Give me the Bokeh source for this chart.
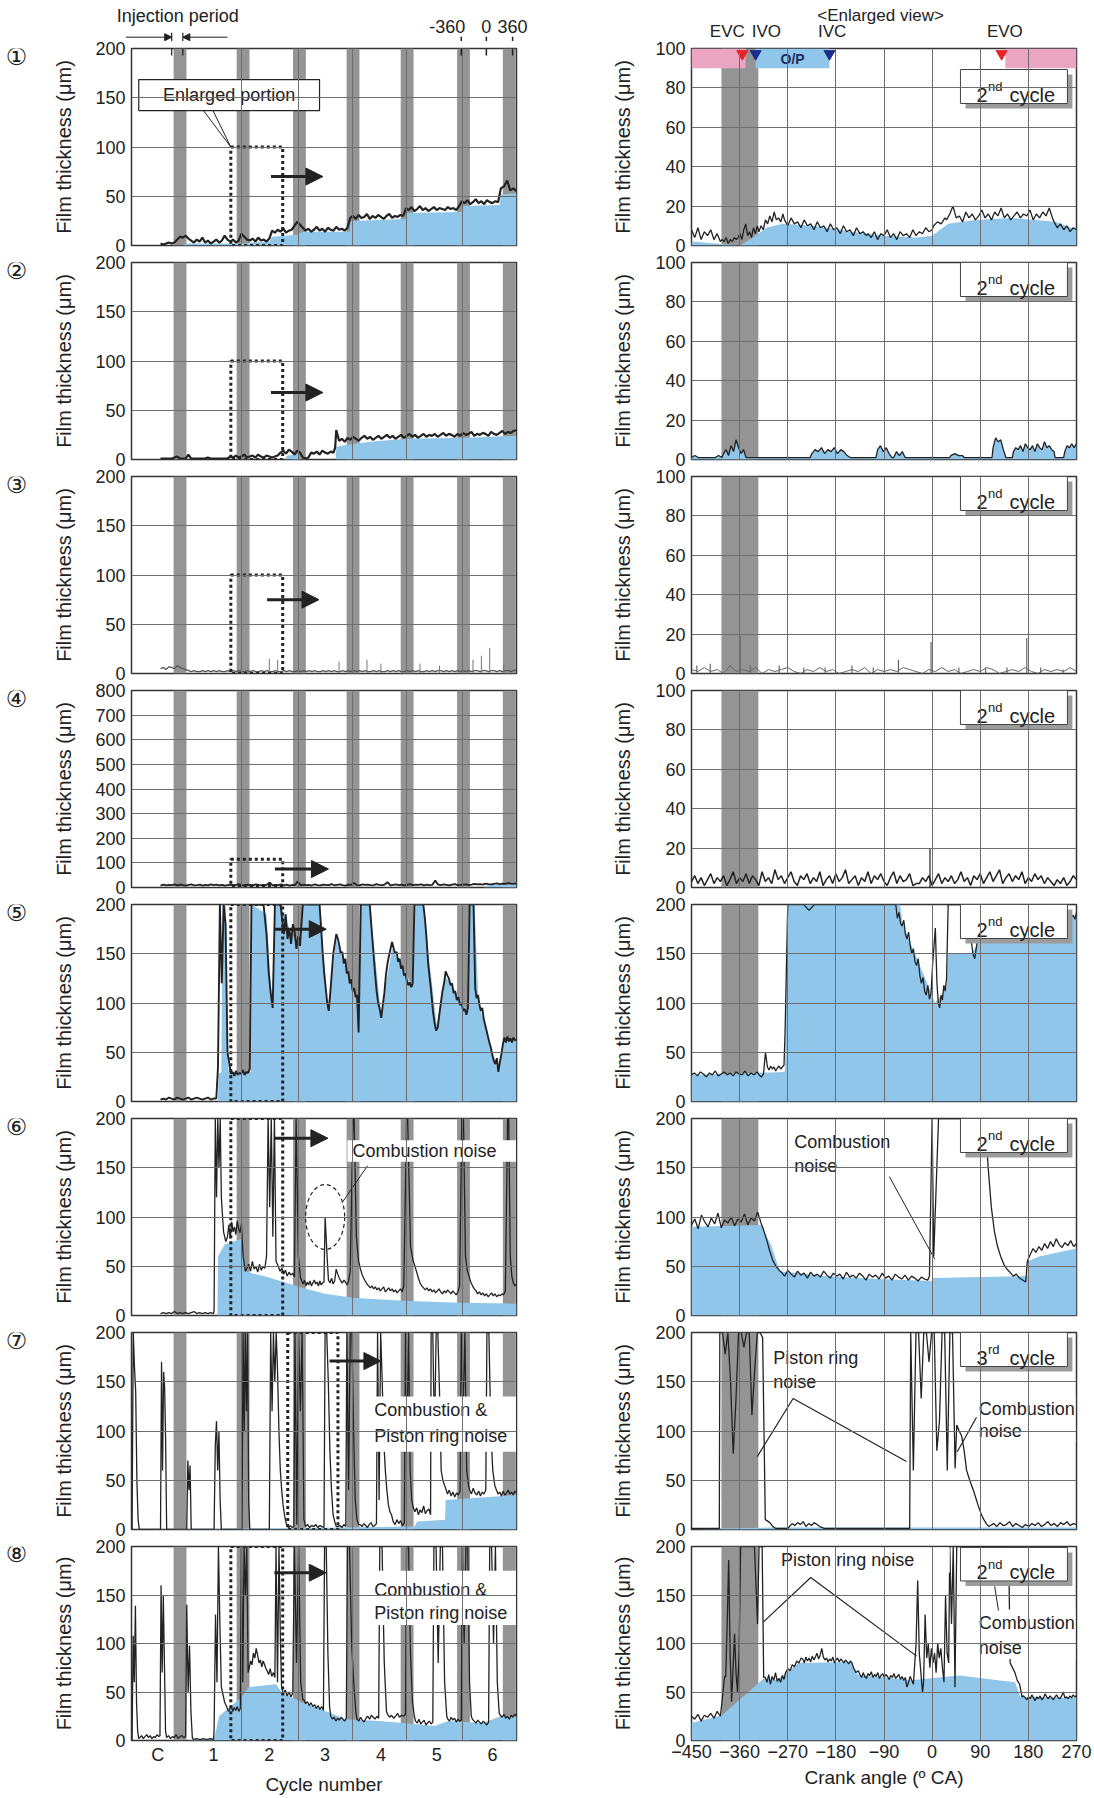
import numpy as np
from bokeh.plotting import figure
from bokeh.layouts import column, row
from bokeh.models import Range1d, FixedTicker, Arrow, NormalHead
from bokeh.core.properties import value
from bokeh.embed import file_html
from bokeh.resources import INLINE

FONT = "Liberation Sans"
INK = "#222222"
BLUE = "#8fc6ea"
BAR = "#949494"
GRIDC = "#6e6e6e"
PINK = "#eaa6c1"
RED = "#e8212b"
NAVY = "#1d2c8a"

# ---------------- axes / categories ----------------
CYCLE_TICKS = [0, 1, 2, 3, 4, 5, 6]
CYCLE_LABELS = ["C", "1", "2", "3", "4", "5", "6"]
CA_TICKS = [-450, -360, -270, -180, -90, 0, 90, 180, 270]
INJ_CYCLE = [0.40, 1.53, 2.54, 3.50, 4.47, 5.48, 6.30]      # injection periods (cycle units)
INJ_CYCLE_W = 0.23
CYCLE_BOUNDS = [1.51, 2.52, 3.49, 4.46, 5.47]
INJ_CA_START, INJ_CA_END = -394, -325                      # injection period (deg CA)
L_XR = (-0.47, 6.43)
R_XR = (-450, 270)
L_YMAX = [200, 200, 200, 800, 200, 200, 200, 200]
R_YMAX = [100, 100, 100, 100, 200, 200, 200, 200]
L_YTICKS = [[0, 50, 100, 150, 200]] * 3 + [[0, 100, 200, 300, 400, 500, 600, 700, 800]] + [[0, 50, 100, 150, 200]] * 4
R_YTICKS = [[0, 20, 40, 60, 80, 100]] * 4 + [[0, 50, 100, 150, 200]] * 4
ROW_MARKS = ["①", "②", "③", "④", "⑤", "⑥", "⑦", "⑧"]
CYCLE_NUM = ["2", "2", "2", "2", "2", "2", "3", "2"]
CYCLE_SUP = ["nd", "nd", "nd", "nd", "nd", "nd", "rd", "nd"]
ENL = [(1.31, 2.24, 0, 100), (1.31, 2.24, 0, 100), (1.31, 2.24, 0, 100), (1.31, 2.24, 8, 115),
       (1.31, 2.24, 0, 200), (1.31, 2.24, 0, 200), (2.33, 3.23, 0, 200), (1.31, 2.24, 0, 200)]
ENL_ARROW = [(2.03, 2.96, 70), (2.03, 2.96, 68), (1.96, 2.89, 75), (2.10, 3.06, 75),
             (2.09, 3.02, 175), (2.10, 3.05, 180), (3.08, 4.00, 171), (2.09, 3.02, 173)]
INJ_MARK = [0.25, 0.45]                    # injection-period bracket (cycle units)
CA_MARK_X = [5.44, 5.89, 6.36]             # -360 / 0 / 360 deg CA marks
CA_MARK_T = ["-360", "0", "360"]
CA_MARK_LX = [5.19, 5.89, 6.36]
VALVE_NAMES = ["EVC", "IVO", "IVC", "EVO"]
VALVE_CA = [-355, -330, -192, 130]
VALVE_LX = [-383, -310, -187, 136]
VALVE_COL = [RED, NAVY, NAVY, RED]
EXH_OPEN = [(-450, -349), (137, 270)]
INT_OPEN = (-330, -192)

# ---------------- left panels: film thickness vs cycle ----------------
L1 = [(0.05, 0.30, [2, 1, 2, 3, 2, 3]),
      (0.35, 0.50, [6, 9, 8, 10]),
      (0.55, 1.25, [7, 5, 3, 6, 4, 8, 3, 5, 2, 4, 6, 3, 5, 10, 6]),
      (1.30, 1.60, [4, 6, 3, 5, 12, 9, 6]),
      (1.65, 2.00, [5, 7, 4, 8, 5, 6, 4, 7]),
      (2.05, 2.35, [15, 13, 16, 14, 17, 13, 15]),
      (2.40, 2.55, [16, 20, 24, 21]),
      (2.60, 3.40, [18, 15, 17, 14, 16, 19, 15, 17, 14, 18, 16, 15, 19, 16, 17, 15, 18]),
      (3.45, 4.40, [28, 30, 27, 31, 28, 29, 32, 27, 30, 28, 31, 29, 27, 30, 32, 28, 30, 29, 31, 30]),
      (4.45, 5.40, [38, 36, 39, 35, 37, 40, 36, 38, 35, 37, 39, 36, 38, 37, 36, 39, 37, 38, 36, 40]),
      (5.45, 6.10, [45, 43, 46, 42, 44, 47, 43, 45, 42, 46, 44, 43, 45, 44]),
      (6.15, 6.43, [58, 60, 66, 56, 58, 55])]
L1_FX = [0.45, 0.50, 1.30, 1.60, 1.65, 2.00, 2.05, 2.50, 2.60, 3.44, 3.46, 4.44, 4.46, 5.44, 5.46, 6.13, 6.15, 6.43]
L1_FY = [0, 2, 2, 2, 3, 4, 9, 11, 14, 14, 25, 27, 33, 34, 40, 41, 52, 53]

L2 = [(0.05, 1.25, [1, 1, 1, 1, 1, 2, 3, 1, 1, 1, 5, 1, 1, 1, 1, 1, 1, 2, 1, 1, 1, 1, 1, 1, 1]),
      (1.30, 2.15, [3, 2, 4, 2, 3, 5, 2, 3, 4, 2, 5, 3, 2, 4, 3, 2, 3, 4]),
      (2.20, 2.55, [7, 9, 6, 10, 8, 5, 9, 7]),
      (2.60, 2.70, [2, 1, 2]),
      (2.75, 3.15, [7, 6, 8, 5, 9, 7, 6, 8, 7]),
      (3.18, 3.20, [12, 30]),
      (3.25, 6.43, [19, 21, 18, 22, 20, 23, 21, 19, 22, 24, 21, 23, 20, 22, 24, 21, 23, 25, 22, 24,
                    21, 23, 25, 22, 24, 26, 23, 25, 22, 24, 26, 23, 25, 24, 26, 23, 25, 27, 24, 26,
                    25, 23, 26, 24, 27, 25, 26, 28, 24, 26, 25, 27, 26, 24, 28, 26, 25, 27, 29, 26,
                    28, 27, 29, 30])]
L2_FX = [2.28, 2.32, 2.50, 2.55, 3.19, 3.20, 3.50, 4.00, 4.50, 5.50, 6.43]
L2_FY = [0, 4, 5, 0, 0, 13, 16, 19, 21, 22, 24]

L3 = [(0.05, 6.43, [5, 6, 4, 7, 6, 5, 8, 6, 5, 4, 3, 2, 3, 2, 2, 3, 2, 3, 2, 3, 2, 3, 2, 2, 3, 2, 3, 2, 3, 2,
                    2, 3, 2, 3, 2, 2, 3, 2, 3, 2, 2, 3, 2, 2, 3, 2, 3, 2, 2, 3, 2, 3, 2, 3, 2, 3, 2, 2, 3, 2,
                    3, 2, 3, 2, 2, 3, 2, 3, 2, 3, 2, 3, 2, 3, 2, 2, 3, 2, 3, 2, 2, 3, 2, 3, 2, 3, 2, 2, 3, 2,
                    3, 2, 3, 2, 2, 3, 2, 3, 2, 3, 3, 2, 3, 2, 3, 2, 3, 2, 3, 2, 3, 2, 3, 3, 2, 3, 3, 2, 3, 3,
                    2, 3, 2, 3, 3, 2, 3, 4])]
L3_SX = [1.50, 2.00, 2.15, 3.25, 3.75, 4.00, 4.70, 5.05, 5.65, 5.80, 5.95, 6.20]
L3_SY = [18, 15, 14, 12, 14, 10, 10, 8, 14, 18, 26, 9]

L4 = [(0.05, 6.43, [8, 12, 9, 11, 10, 13, 9, 12, 10, 8, 11, 13, 9, 10, 12, 8, 11, 9, 13, 10, 12, 9, 11, 8, 10,
                    12, 9, 11, 14, 10, 8, 12, 10, 9, 13, 11, 10, 8, 12, 20, 9, 11, 10, 13, 9, 12, 8, 11, 10,
                    25, 9, 12, 10, 11, 8, 13, 10, 9, 12, 11, 10, 14, 9, 11, 13, 10, 8, 12, 11, 18, 10, 9, 13,
                    11, 12, 10, 9, 14, 11, 10, 12, 22, 9, 11, 13, 10, 12, 9, 11, 14, 10, 12, 11, 13, 9, 12,
                    10, 11, 28, 12, 10, 13, 11, 9, 12, 14, 10, 11, 12, 13, 10, 12, 15, 13, 14, 12, 16, 14,
                    13, 15, 17, 14, 16, 15, 18, 16, 15, 17])]
L4_FX = [5.85, 5.90, 6.43]
L4_FY = [0, 9, 13]

L5 = [(0.05, 1.05, [2, 3, 2, 4, 3, 2, 4, 3, 2, 3, 4, 2, 3, 4, 3, 2, 3, 4, 2, 3, 3]),
      (1.08, 1.25, [35, 200, 120, 200, 180, 50]),
      (1.28, 1.65, [40, 28, 30, 26, 31, 27, 29, 28, 32, 27, 30, 29, 33]),
      (1.68, 1.95, [200, 200, 200, 200, 200, 170]),
      (1.99, 2.06, [130, 110, 95]),
      (2.10, 2.20, [200, 200, 200]),
      (2.23, 2.55, [185, 170, 190, 165, 175, 160, 180, 172, 155, 168, 158]),
      (2.60, 2.90, [200, 200, 200, 200, 200, 200, 200]),
      (2.93, 3.20, [175, 150, 130, 115, 100, 92, 110, 130, 150, 160, 170]),
      (3.23, 3.60, [165, 158, 150, 152, 140, 145, 130, 132, 120, 124, 112, 115, 106, 108, 70]),
      (3.64, 3.80, [200, 200, 200, 200]),
      (3.84, 4.20, [170, 150, 130, 112, 100, 94, 85, 98, 110, 128, 140, 148, 155, 162]),
      (4.23, 4.57, [155, 150, 152, 142, 145, 135, 138, 128, 130, 122, 118, 121, 116, 120]),
      (4.60, 4.76, [200, 200, 200, 200]),
      (4.79, 5.16, [185, 165, 140, 125, 110, 92, 80, 72, 75, 88, 100, 112, 120, 132]),
      (5.19, 5.56, [128, 125, 118, 120, 110, 112, 103, 106, 98, 100, 92, 94, 88, 95]),
      (5.59, 5.66, [200, 200]),
      (5.69, 6.02, [115, 105, 108, 98, 92, 95, 84, 78, 72, 66, 60, 55, 48, 42]),
      (6.05, 6.43, [38, 44, 30, 40, 48, 58, 65, 60, 66, 61, 64, 60, 65, 62, 63])]
L5_FX = [1.08, 1.09, 1.14, 1.16, 1.22, 1.27, 1.67, 1.69, 1.95, 2.05, 2.10, 2.20, 2.40, 2.55, 2.60, 2.90,
         3.05, 3.20, 3.55, 3.60, 3.65, 3.80, 4.00, 4.20, 4.55, 4.60, 4.75, 5.00, 5.15, 5.55, 5.60, 5.68,
         5.75, 6.05, 6.10, 6.20, 6.43]
L5_FY = [0, 28, 30, 200, 200, 30, 30, 200, 190, 100, 200, 200, 170, 160, 200, 200,
         95, 165, 105, 80, 200, 200, 90, 155, 120, 200, 200, 78, 128, 92, 200, 200,
         100, 40, 32, 62, 62]

L6 = [(0.05, 1.00, [2, 3, 2, 3, 2, 4, 2, 3, 2, 3, 2, 3, 4, 2, 3, 2, 3, 2, 3, 2]),
      (1.01, 1.12, [5, 200, 120, 200, 150, 200]),
      (1.14, 1.22, [120, 85, 75]),
      (1.25, 1.50, [80, 92, 78, 95, 85, 90, 82, 96, 88, 84, 93]),
      (1.53, 1.57, [60, 45]),
      (1.60, 1.92, [48, 52, 45, 55, 47, 50, 44, 52, 46, 50, 48]),
      (1.95, 2.12, [60, 200, 110, 200, 80, 200, 55]),
      (2.16, 2.45, [50, 45, 48, 42, 46, 40, 44, 41, 43, 39]),
      (2.48, 2.56, [200, 60, 38]),
      (2.58, 2.98, [35, 32, 36, 30, 34, 31, 35, 30, 33, 36, 32, 34, 30, 35, 31, 33, 34]),
      (3.00, 3.04, [100, 55]),
      (3.06, 3.42, [36, 33, 38, 32, 35, 47, 42, 38, 35, 33, 36, 34, 31, 35]),
      (3.45, 3.50, [45, 200]),
      (3.52, 3.60, [200, 80, 55]),
      (3.63, 4.38, [48, 42, 38, 35, 32, 30, 28, 30, 27, 29, 26, 28, 25, 27, 29, 24, 26, 28, 25, 27,
                    24, 26, 23, 25, 27, 24]),
      (4.41, 4.46, [30, 200]),
      (4.48, 4.58, [200, 70, 55]),
      (4.61, 5.38, [50, 44, 38, 33, 30, 28, 26, 28, 25, 27, 24, 26, 23, 25, 27, 24, 22, 25, 23, 26,
                    24, 22, 25, 23, 21, 24]),
      (5.41, 5.45, [30, 200]),
      (5.48, 5.55, [200, 60, 45]),
      (5.58, 6.20, [40, 34, 30, 27, 25, 22, 24, 21, 23, 20, 22, 19, 21, 23, 20, 22, 19, 21, 20, 22, 21]),
      (6.23, 6.27, [25, 200]),
      (6.29, 6.43, [200, 60, 40, 33, 30, 32])]
L6_FX = [1.07, 1.08, 1.20, 1.50, 1.55, 1.90, 2.20, 2.60, 3.00, 3.50, 4.40, 5.40, 6.43]
L6_FY = [0, 60, 72, 78, 45, 40, 35, 28, 22, 18, 15, 13, 12]

L7 = [(-0.46, -0.33, [0, 200, 165, 140, 50, 10, 0]),
      (-0.30, 0.03, [0, 0]),
      (0.05, 0.16, [0, 170, 60, 160, 145, 90, 0]),
      (0.18, 0.50, [0, 0]),
      (0.52, 0.60, [0, 70, 40, 65, 0]),
      (0.62, 1.00, [0, 0]),
      (1.01, 1.14, [0, 85, 110, 60, 100, 30, 0]),
      (1.16, 1.50, [0, 0]),
      (1.51, 1.65, [0, 200, 100, 200, 120, 200, 30, 0]),
      (1.67, 1.99, [0, 0]),
      (2.00, 2.32, [0, 200, 120, 200, 150, 200, 160, 100, 60, 40, 25, 15, 8, 3]),
      (2.35, 2.44, [2, 4, 2, 3]),
      (2.46, 2.62, [200, 5, 200, 120, 200, 10]),
      (2.65, 2.98, [3, 5, 2, 4, 3, 5, 2, 4, 3, 2]),
      (3.00, 3.20, [200, 200, 150, 80, 40, 15, 8, 3]),
      (3.23, 3.37, [3, 4, 2, 5, 3]),
      (3.39, 3.60, [200, 40, 200, 200, 100, 30, 10, 5]),
      (3.63, 3.92, [5, 3, 6, 4, 2, 5, 7, 3, 4, 6]),
      (3.94, 4.19, [200, 30, 200, 150, 90, 60, 40, 25, 18, 15]),
      (4.22, 4.42, [8, 5, 10, 6, 9, 4, 7]),
      (4.44, 4.58, [200, 100, 200, 60, 30, 22]),
      (4.61, 4.89, [18, 22, 15, 20, 17, 24, 16, 19, 21, 15]),
      (4.90, 5.14, [200, 200, 90, 200, 200, 140, 60, 50, 45]),
      (5.16, 5.42, [42, 36, 40, 34, 38, 33, 37, 35, 39]),
      (5.44, 5.57, [200, 120, 200, 60, 45]),
      (5.59, 5.88, [40, 36, 42, 37, 35, 39, 34, 38, 36, 40]),
      (5.90, 6.04, [200, 200, 100, 60, 45]),
      (6.07, 6.43, [40, 36, 38, 34, 39, 35, 37, 40, 36, 38, 35, 39, 37])]
L7_FX = [-0.47, 2.00, 4.60, 4.65, 5.15, 5.16, 6.43]
L7_FY = [0, 1, 3, 8, 10, 30, 35]

L8 = [(-0.46, -0.34, [0, 108, 60, 139, 40, 10, 2]),
      (-0.32, 0.02, [3, 5, 2, 4, 6, 3, 5, 2, 4, 3, 6, 4]),
      (0.04, 0.14, [5, 160, 70, 150, 80, 10]),
      (0.16, 0.50, [3, 5, 2, 4, 3, 6, 2, 4, 5, 3, 4]),
      (0.52, 0.62, [140, 50, 98, 30, 3]),
      (0.64, 1.00, [1, 2, 1, 2, 1, 2, 1]),
      (1.01, 1.14, [10, 130, 60, 200, 120, 55]),
      (1.16, 1.27, [50, 40, 35, 30]),
      (1.29, 1.48, [32, 36, 30, 34, 31, 35, 30, 33]),
      (1.50, 1.62, [200, 60, 200, 150, 200, 70]),
      (1.64, 1.94, [75, 82, 78, 90, 85, 95, 88, 80, 83, 76, 82, 78, 74]),
      (1.96, 2.10, [72, 68, 74, 66, 70, 65]),
      (2.12, 2.20, [200, 60, 200, 100]),
      (2.22, 2.42, [55, 48, 52, 46, 50, 45, 49]),
      (2.45, 2.60, [200, 80, 200, 60, 42]),
      (2.62, 2.97, [42, 38, 40, 36, 39, 35, 37, 33, 36, 32, 35, 31]),
      (2.99, 3.08, [200, 200, 90, 35]),
      (3.10, 3.38, [25, 22, 24, 20, 23, 21, 24, 22, 20, 23]),
      (3.40, 3.55, [200, 200, 100, 60, 30]),
      (3.57, 3.96, [22, 20, 24, 21, 19, 23, 25, 22, 26, 24, 22, 25, 23]),
      (3.98, 4.10, [200, 200, 80, 30]),
      (4.12, 4.44, [27, 24, 26, 23, 25, 28, 24, 26, 25, 27]),
      (4.46, 4.60, [200, 200, 90, 40, 25]),
      (4.62, 4.93, [20, 18, 22, 17, 19, 21, 16, 18, 20, 17, 19]),
      (4.95, 5.18, [200, 200, 80, 200, 200, 60, 25]),
      (5.20, 5.44, [22, 20, 24, 21, 23, 19, 22, 20, 21]),
      (5.46, 5.62, [200, 100, 200, 200, 60, 25]),
      (5.64, 5.93, [22, 20, 18, 21, 19, 17, 20, 18, 16, 19]),
      (5.95, 6.12, [200, 200, 100, 200, 60, 28]),
      (6.14, 6.43, [26, 24, 27, 23, 25, 22, 26, 24, 27, 25])]
L8_FX = [0.52, 1.01, 1.10, 1.26, 1.51, 1.63, 2.12, 2.22, 2.56, 3.11, 3.36, 3.98, 4.60, 4.96, 5.21, 5.83, 6.14, 6.43]
L8_FY = [0, 2, 25, 33, 45, 55, 58, 50, 40, 28, 22, 20, 17, 15, 20, 18, 25, 25]

# ---------------- right panels: enlarged view vs crank angle ----------------
R1 = [(-450, -396, [8, 4, 9, 3, 7, 5, 8, 3, 6, 2]),
      (-393, -366, [3, 2, 4, 1, 3, 2, 4, 3]),
      (-363, -327, [4, 6, 3, 8, 11, 5, 7, 4, 9, 6, 10]),
      (-324, -279, [7, 10, 8, 13, 11, 15, 12, 17, 13, 14, 12, 16]),
      (-276, -123, [13, 10, 14, 11, 12, 9, 13, 10, 11, 8, 12, 9, 10, 7, 11, 8, 9, 6, 10, 7, 8, 5, 9, 6, 7, 5]),
      (-120, 0, [6, 4, 7, 3, 6, 5, 8, 4, 6, 3, 7, 5, 6, 4, 8, 5, 7, 6, 9, 7, 8]),
      (3, 24, [10, 12, 11, 14]),
      (27, 225, [13, 16, 20, 14, 15, 12, 17, 14, 16, 13, 15, 18, 14, 16, 13, 17, 15, 19, 14, 16, 13, 15,
                 17, 14, 16, 15, 18, 13, 16, 14, 17, 15, 19, 14]),
      (228, 270, [12, 9, 11, 8, 10, 7, 9, 8])]
R1_FX = [-450, -360, -335, -310, -280, -220, -150, -90, -30, 0, 30, 80, 150, 230, 270]
R1_FY = [2, 0, 4, 9, 11, 10, 7, 5, 4, 5, 11, 13, 14, 12, 8]

R2 = [(-450, -393, [1, 2, 1, 1, 1, 1, 1, 1, 2, 1]),
      (-390, -348, [3, 5, 2, 7, 4, 10, 6, 3, 5, 1]),
      (-345, -228, [1, 1]),
      (-225, -153, [3, 5, 4, 6, 3, 5, 4, 6, 3, 5, 4, 2, 1]),
      (-150, -105, [1, 1]),
      (-102, -75, [5, 7, 4, 6, 3, 1]),
      (-72, -45, [1, 4, 2, 4, 1, 1]),
      (-42, 33, [1, 1]),
      (35, 57, [2, 3, 2, 2]),
      (60, 112, [1, 1]),
      (114, 138, [6, 11, 9, 10, 5, 1]),
      (140, 150, [1, 1]),
      (152, 228, [4, 6, 5, 7, 4, 8, 6, 5, 7, 4, 8, 6, 5, 9, 6, 7, 5, 4]),
      (230, 246, [1, 1, 1]),
      (248, 270, [4, 7, 6, 8, 6, 8])]

R3 = [(-450, 270, [2, 1, 3, 1, 2, 0, 4, 1, 2, 1, 3, 0, 2, 1, 2, 3, 1, 0, 2, 1, 3, 1, 2, 0, 1, 2, 1, 3, 0, 2,
                   1, 2, 1, 3, 2, 1, 0, 2, 1, 3, 1, 2, 0, 1, 2, 1, 3, 2, 0, 1, 2, 1, 3, 1, 0, 2, 1, 2, 1, 3, 1])]
R3_SX = [-440, -415, -359, -340, -286, -240, -200, -150, -110, -63, -2, 50, 100, 140, 177, 203, 245]
R3_SY = [4, 5, 19, 4, 4, 3, 3, 4, 3, 7, 16, 3, 3, 3, 18, 3, 2]

R4 = [(-450, 270, [3, 6, 2, 5, 1, 4, 7, 2, 5, 3, 6, 1, 4, 8, 2, 5, 3, 7, 2, 6, 4, 1, 8, 3, 5, 2, 9, 4, 6, 2,
                   5, 8, 3, 1, 6, 4, 7, 2, 5, 3, 8, 1, 4, 6, 2, 7, 3, 5, 9, 2, 4, 6, 1, 5, 3, 8, 2, 6, 4, 7,
                   3, 1, 5, 8, 2, 6, 3, 4, 7, 1, 2, 2, 5, 3, 6, 1, 4, 7, 2, 5, 3, 6, 2, 4, 8, 3, 5, 1, 6, 4,
                   7, 2, 5, 8, 3, 6, 9, 2, 5, 7, 3, 6, 4, 8, 2, 5, 3, 7, 4, 6, 2, 5, 3, 1, 4, 2, 5, 1, 3, 6, 4])]
R4_SX = [-4]
R4_SY = [20]

R5 = [(-450, -322, [27, 29, 26, 30, 28, 25, 29, 27, 31, 26, 28, 30, 27, 29, 26, 30, 28, 27, 31, 26, 29, 27, 30, 26]),
      (-319, -308, [25, 28, 50, 35]),
      (-305, -277, [32, 36, 33, 35, 31, 34, 36, 33, 35, 37]),
      (-275, -272, [70, 150]),
      (-270, -71, [200, 200, 200, 200, 194, 200, 200, 200, 200, 200, 200, 200, 200, 200, 200, 200, 200, 200, 200, 200, 200]),
      (-68, -2, [200, 186, 192, 181, 178, 184, 170, 165, 172, 158, 150, 155, 142, 138, 145, 128, 120, 126, 112, 108, 118, 104, 110]),
      (1, 6, [140, 176]),
      (9, 27, [120, 100, 95, 108, 103, 118, 112, 125]),
      (30, 63, [200, 200]),
      (66, 90, [195, 175, 165, 150, 145, 158, 170, 200]),
      (93, 210, [200, 200]),
      (213, 270, [200, 192, 187, 193, 186, 190, 185, 191, 188, 184, 190, 187, 189, 192, 186, 190, 188, 189, 185, 192])]
R5_FX = [-450, -276, -275, -270, -60, -55, 0, 5, 27, 30, 75, 90, 150, 200, 230, 270]
R5_FY = [27, 30, 35, 200, 200, 180, 108, 100, 115, 150, 151, 165, 180, 185, 187, 188]

R6 = [(-450, -320, [92, 98, 88, 102, 95, 90, 99, 93, 104, 89, 97, 94, 100, 91, 98, 95, 103, 92, 99, 96, 105, 94]),
      (-316, -286, [88, 78, 66, 56, 50, 46]),
      (-282, -8, [44, 40, 46, 42, 39, 45, 41, 43, 38, 44, 40, 42, 39, 45, 41, 38, 43, 40, 42, 37, 44, 39, 41,
                  38, 43, 40, 36, 42, 39, 41, 37, 43, 38, 40, 36, 42, 39, 37, 41, 36, 40, 38, 35, 39, 37, 36]),
      (-5, 0, [40, 200]),
      (3, 12, [60, 200]),
      (15, 96, [200, 200]),
      (99, 175, [200, 150, 110, 85, 70, 60, 52, 47, 44, 40, 42, 38, 36, 34]),
      (178, 270, [55, 62, 68, 64, 70, 66, 73, 68, 75, 70, 78, 72, 69, 74, 71, 76, 70, 73])]
R6_FX = [-450, -320, -300, -285, -200, -100, 0, 1, 178, 179, 200, 270]
R6_FY = [90, 92, 70, 45, 40, 37, 35, 38, 40, 55, 60, 68]

R7 = [(-450, -398, [1, 1]),
      (-397, -312, [200, 200, 178, 200, 150, 77, 130, 200, 200, 185, 200, 200, 116, 160, 200, 200, 195, 10]),
      (-309, -270, [9, 7, 3, 1, 1, 1, 1, 1]),
      (-267, -205, [3, 6, 4, 7, 5, 8, 3, 6, 4, 7, 5, 3, 2]),
      (-202, -42, [1, 1]),
      (-40, 43, [200, 60, 200, 200, 133, 200, 200, 170, 200, 200, 80, 110, 200, 200, 60, 200, 200, 62]),
      (46, 106, [106, 100, 95, 80, 60, 52, 45, 38, 30, 22, 15, 10, 6, 3]),
      (109, 270, [4, 6, 3, 7, 4, 5, 8, 3, 6, 4, 2, 5, 3, 6, 4, 7, 3, 5, 8, 4, 6, 3, 7, 5, 8, 4, 6, 5])]
R7_FX = [-450, -400, -300, 270]
R7_FY = [0, 1, 2, 2]

R8 = [(-450, -396, [25, 22, 27, 20, 26, 24, 28, 23, 30, 25]),
      (-393, -388, [40, 66]),
      (-386, -364, [66, 120, 186, 90, 40, 75, 110, 70, 50]),
      (-361, -315, [90, 200, 200, 200, 200, 200, 200, 200, 200, 200, 200, 160, 120, 200, 200, 200, 65]),
      (-312, -277, [65, 60, 68, 58, 66, 62, 70, 61, 64, 60, 67, 63]),
      (-274, -245, [70, 74, 72, 78, 76, 82, 80, 85]),
      (-242, -150, [84, 80, 86, 82, 85, 81, 87, 83, 86, 90, 84, 88, 95, 86, 83, 85, 81, 84, 82, 86, 80, 83,
                    85, 81, 84, 82, 80, 83, 81, 79, 82, 80]),
      (-147, -138, [75, 70, 72]),
      (-135, -35, [68, 65, 70, 66, 64, 69, 67, 71, 65, 68, 66, 70, 64, 67, 69, 65, 68, 66, 63, 67, 65, 69,
                   64, 66, 68, 63, 66, 62, 65, 55, 60, 66, 62, 58]),
      (-33, -18, [75, 100, 165, 90, 70, 49]),
      (-16, 31, [60, 130, 85, 100, 75, 95, 80, 90, 70, 100, 85, 95, 75, 60, 150, 90, 80]),
      (33, 46, [200, 120, 200, 55, 200]),
      (48, 143, [200, 200]),
      (146, 168, [80, 75, 70, 62, 58, 45]),
      (171, 270, [46, 44, 42, 45, 43, 47, 44, 41, 45, 43, 46, 42, 44, 48, 45, 43, 46, 44, 42, 45, 47, 44,
                  43, 46, 50, 44, 45, 43, 46, 44, 47, 45, 46])]
R8_FX = [-450, -393, -315, -290, -250, -150, -140, -40, 50, 155, 165, 270]
R8_FY = [18, 26, 64, 62, 80, 81, 68, 62, 67, 60, 45, 44]

L_TRACES = [L1, L2, L3, L4, L5, L6, L7, L8]
L_FILLS = [(L1_FX, L1_FY), (L2_FX, L2_FY), None, (L4_FX, L4_FY), (L5_FX, L5_FY), (L6_FX, L6_FY),
           (L7_FX, L7_FY), (L8_FX, L8_FY)]
R_TRACES = [R1, R2, R3, R4, R5, R6, R7, R8]
R_FILLS = [(R1_FX, R1_FY), "line", None, None, (R5_FX, R5_FY), (R6_FX, R6_FY), (R7_FX, R7_FY), (R8_FX, R8_FY)]

# ---------------- layout geometry (pixels) ----------------
FRAME_W, FRAME_H = 385, 197
STRIP_W = 34
L_W, L_BL, L_BR = 536, 97, 54
R_W, R_BL, R_BR = 524, 121, 18
HEAD_H = 41
TOP_B, BOT_B, FIRST_TOP_B, LAST_BOT_B = 9, 8, 7, 54
L_UPP = (L_XR[1] - L_XR[0]) / FRAME_W      # data units per pixel
R_UPP = (R_XR[1] - R_XR[0]) / FRAME_W
L_LINE_W = [2.2, 2.2, 1.3, 1.8, 1.9, 1.3, 1.3, 1.3]


def trace(segs):
    xs, ys = [], []
    for x0, x1, vals in segs:
        xs.extend(np.linspace(x0, x1, len(vals)))
        ys.extend(vals)
    return np.array(xs, dtype=float), np.array(ys, dtype=float)


def txt(p, x, y, t, size="18px", align="center", baseline="middle", font=FONT, style="normal", color=INK):
    p.text(x=x, y=y, text=t, text_font=value(font), text_font_size=size, text_align=align,
           text_baseline=baseline, text_color=color, text_font_style=style)


def bare(width, height, xr, yr, top=0, bottom=0):
    p = figure(width=width, height=height, x_range=Range1d(*xr), y_range=Range1d(*yr),
               output_backend="svg", toolbar_location=None, x_axis_location=None, y_axis_location=None,
               min_border_left=0, min_border_right=0, min_border_top=top, min_border_bottom=bottom)
    p.outline_line_color = None
    p.grid.visible = False
    return p


def make_fig(side, idx):
    first, last = idx == 0, idx == 7
    top_b = FIRST_TOP_B if first else TOP_B
    bot_b = LAST_BOT_B if last else BOT_B
    if side == "L":
        w, bl, br, xr, ymax, yt = L_W, L_BL, L_BR, L_XR, L_YMAX[idx], L_YTICKS[idx]
    else:
        w, bl, br, xr, ymax, yt = R_W, R_BL, R_BR, R_XR, R_YMAX[idx], R_YTICKS[idx]
    p = figure(width=w, height=top_b + FRAME_H + bot_b, x_range=Range1d(*xr), y_range=Range1d(0, ymax),
               output_backend="svg", toolbar_location=None,
               x_axis_location="below" if last else None,
               min_border_left=bl, min_border_right=br, min_border_top=top_b, min_border_bottom=bot_b)
    p.outline_line_color = "#333333"
    p.outline_line_width = 1.5
    ya = p.yaxis
    ya.ticker = FixedTicker(ticks=yt)
    ya.axis_label = "Film thickness (μm)"
    ya.axis_label_text_font = FONT
    ya.axis_label_text_font_size = "20px"
    ya.axis_label_text_font_style = "normal"
    ya.axis_label_text_color = INK
    ya.axis_label_standoff = 17 if side == "L" else 18
    ya.major_label_text_font = FONT
    ya.major_label_text_font_size = "18px"
    ya.major_label_text_color = INK
    ya.major_label_standoff = 6
    ya.major_tick_line_color = None
    ya.major_tick_out = 0
    ya.major_tick_in = 0
    ya.minor_tick_line_color = None
    ya.axis_line_color = None
    p.ygrid.grid_line_color = GRIDC
    p.xgrid.grid_line_color = GRIDC
    p.xgrid.ticker = FixedTicker(ticks=CYCLE_BOUNDS if side == "L" else CA_TICKS[1:-1])
    p.xgrid.level = "glyph"
    p.ygrid.level = "glyph"
    if last:
        ax = p.xaxis
        ax.major_tick_line_color = None
        ax.major_tick_out = 0
        ax.major_tick_in = 0
        ax.minor_tick_line_color = None
        ax.axis_line_color = None
        ax.major_label_text_font = FONT
        ax.major_label_text_font_size = "18px"
        ax.major_label_text_color = INK
        ax.major_label_standoff = 4
        ax.axis_label_text_font = FONT
        ax.axis_label_text_font_size = "19px"
        ax.axis_label_text_font_style = "normal"
        ax.axis_label_text_color = INK
        ax.axis_label_standoff = 6
        if side == "L":
            ax.ticker = FixedTicker(ticks=CYCLE_TICKS)
            ax.major_label_overrides = {t: s for t, s in zip(CYCLE_TICKS, CYCLE_LABELS)}
            ax.axis_label = "Cycle number"
        else:
            ax.ticker = FixedTicker(ticks=CA_TICKS)
            ax.axis_label = "Crank angle (º CA)"
    return p, ymax, top_b, bot_b


def whitebox(p, l, r, b, t):
    p.quad(left=[l], right=[r], bottom=[b], top=[t], fill_color="white", line_color=None)


# ---------------- header row (texts above the first row) ----------------
lv = L_YMAX[0] / FRAME_H
rv = R_YMAX[0] / FRAME_H
top_gap = HEAD_H + FIRST_TOP_B          # pixels from page top to first frame top
headL = bare(STRIP_W + L_W, HEAD_H,
             (L_XR[0] - (STRIP_W + L_BL) * L_UPP, L_XR[1] + L_BR * L_UPP),
             (L_YMAX[0] + FIRST_TOP_B * lv, L_YMAX[0] + top_gap * lv))
headR = bare(R_W, HEAD_H,
             (R_XR[0] - R_BL * R_UPP, R_XR[1] + R_BR * R_UPP),
             (R_YMAX[0] + FIRST_TOP_B * rv, R_YMAX[0] + top_gap * rv))
txt(headL, [0.36], [232.5], ["Injection period"])
headL.add_layout(Arrow(end=NormalHead(size=7, fill_color=INK, line_color=INK), x_start=-0.57, y_start=211.5,
                       x_end=INJ_MARK[0], y_end=211.5, line_width=1, line_color=INK))
headL.add_layout(Arrow(end=NormalHead(size=7, fill_color=INK, line_color=INK), x_start=1.25, y_start=211.5,
                       x_end=INJ_MARK[1], y_end=211.5, line_width=1, line_color=INK))
headL.segment(x0=INJ_MARK, y0=216, x1=INJ_MARK, y1=200, line_color=INK, line_width=1.2)
txt(headL, CA_MARK_LX, [222] * 3, CA_MARK_T)
headL.segment(x0=CA_MARK_X, y0=212, x1=CA_MARK_X, y1=200, line_color=INK, line_width=1.5)
txt(headR, [-96.5], [116.5], ["<Enlarged view>"], size="17px")
txt(headR, VALVE_LX, [108.8] * 4, VALVE_NAMES, size="17px")

rows = [row(headL, headR)]
for i in range(8):
    # ---------------- left ----------------
    p, ymax, tb, bb = make_fig("L", i)
    strip = bare(STRIP_W, tb + FRAME_H + bb, (0, STRIP_W), (0, FRAME_H), top=tb, bottom=bb)
    txt(strip, [16], [FRAME_H - 8], [ROW_MARKS[i]], size="24px", font="DejaVu Sans")
    p.quad(left=[c - INJ_CYCLE_W / 2 for c in INJ_CYCLE], right=[c + INJ_CYCLE_W / 2 for c in INJ_CYCLE],
           bottom=0, top=ymax, fill_color=BAR, line_color=None, level="underlay")
    if L_FILLS[i] is not None:
        fx, fy = L_FILLS[i]
        p.varea(x=fx, y1=0, y2=fy, fill_color=BLUE, level="underlay")
    x, y = trace(L_TRACES[i])
    if i == 2:
        p.line(x, y, line_color="#555555", line_width=L_LINE_W[i])
        p.segment(x0=L3_SX, y0=0, x1=L3_SX, y1=L3_SY, line_color="#777777", line_width=1)
    else:
        p.line(x, y, line_color=INK, line_width=L_LINE_W[i])
    ex0, ex1, ey0, ey1 = ENL[i]
    p.quad(left=[ex0], right=[ex1], bottom=[ey0], top=[ey1], fill_color=None, line_color=INK,
           line_width=3, line_dash="3 3")
    ax0, ax1, ay = ENL_ARROW[i]
    p.add_layout(Arrow(end=NormalHead(size=17, fill_color=INK, line_color=INK), x_start=ax0, y_start=ay,
                       x_end=ax1, y_end=ay, line_width=3, line_color=INK))
    if i == 0:
        p.segment(x0=INJ_MARK, y0=200, x1=INJ_MARK, y1=193, line_color=INK, line_width=1.2)
        p.segment(x0=CA_MARK_X, y0=200, x1=CA_MARK_X, y1=193, line_color=INK, line_width=1.5)
        p.quad(left=[-0.34], right=[2.90], bottom=[137], top=[168.5], fill_color="white", line_color=INK,
               line_width=1.2)
        txt(p, [1.28], [152.5], ["Enlarged portion"])
        p.line([0.82, 1.31], [137, 100], line_color=INK, line_width=1)
        p.line([0.99, 1.31], [137, 100], line_color=INK, line_width=1)
    if i == 5:
        whitebox(p, 3.40, 6.42, 156, 178)
        txt(p, [3.49], [166.5], ["Combustion noise"], align="left")
        p.ellipse(x=[3.0], y=[100], width=[0.70], height=[66], fill_color=None, line_color=INK,
                  line_dash="4 3", line_width=1.2)
        p.line([3.76, 3.31], [152, 115], line_color=INK, line_width=1)
    if i in (6, 7):
        b, t, l1, l2 = (79, 135, 121, 95) if i == 6 else (119, 175, 155, 131)
        whitebox(p, 3.66, 6.42, b, t)
        txt(p, [3.88, 3.88], [l1, l2], ["Combustion &", "Piston ring noise"], align="left")

    # ---------------- right ----------------
    q, ymax, tb, bb = make_fig("R", i)
    q.quad(left=[INJ_CA_START], right=[INJ_CA_END], bottom=0, top=ymax, fill_color=BAR, line_color=None,
           level="underlay")
    x, y = trace(R_TRACES[i])
    if R_FILLS[i] == "line":
        q.varea(x=x, y1=0, y2=y, fill_color=BLUE, level="underlay")
    elif R_FILLS[i] is not None:
        fx, fy = R_FILLS[i]
        q.varea(x=fx, y1=0, y2=fy, fill_color=BLUE, level="underlay")
    if i == 2:
        q.line(x, y, line_color="#666666", line_width=1)
        q.segment(x0=R3_SX, y0=0, x1=R3_SX, y1=R3_SY, line_color="#666666", line_width=1.2)
    else:
        q.line(x, y, line_color=INK, line_width=1.5 if i == 3 else 1.3)
        if i == 3:
            q.segment(x0=R4_SX, y0=0, x1=R4_SX, y1=R4_SY, line_color=INK, line_width=1.2)
    vpp = ymax / FRAME_H
    dpp = R_UPP
    if i == 0:
        for a, b in EXH_OPEN:
            q.quad(left=[a], right=[b], bottom=[90], top=[100], fill_color=PINK, line_color=None)
        q.quad(left=[INT_OPEN[0]], right=[INT_OPEN[1]], bottom=[90], top=[100], fill_color=BLUE, line_color=None)
        txt(q, [(INT_OPEN[0] + INT_OPEN[1]) / 2], [94.5], ["O/P"], size="14px", style="bold", color="#1f2e5e")
        q.scatter(x=VALVE_CA, y=[97.3] * 4, marker="inverted_triangle", size=11, fill_color=VALVE_COL,
                  line_color=VALVE_COL)
    top_px = [21, 0, 0, 0, 0, 0, 0, 1][i]
    top = ymax - top_px * vpp
    bot = top - 34 * vpp
    BL, BR = 53, 253
    q.quad(left=[BL + 5 * dpp], right=[BR + 5 * dpp], top=[top - 5 * vpp], bottom=[bot - 5 * vpp],
           fill_color="#9c9c9c", line_color=None)
    q.quad(left=[BL], right=[BR], top=[top], bottom=[bot], fill_color="white", line_color="#444444", line_width=1)
    txt(q, [BL + 16 * dpp], [top - 25 * vpp], [CYCLE_NUM[i]], size="20px", align="left", baseline="alphabetic")
    txt(q, [BL + 27.5 * dpp], [top - 17 * vpp], [CYCLE_SUP[i]], size="13px", align="left", baseline="alphabetic")
    txt(q, [BL + 49 * dpp], [top - 25 * vpp], ["cycle"], size="20px", align="left", baseline="alphabetic")
    if i == 5:
        whitebox(q, -266, -82, 140, 190)
        txt(q, [-258, -258], [176.5, 152], ["Combustion", "noise"], align="left")
        q.line([-80, 5], [141, 57], line_color=INK, line_width=1)
    if i == 6:
        whitebox(q, -305, -140, 138, 188)
        txt(q, [-297, -297], [174, 150], ["Piston ring", "noise"], align="left")
        q.line([-327, -260, -48], [74, 133, 69], line_color=INK, line_width=1.2)
        whitebox(q, 80, 268, 88, 135)
        txt(q, [87, 87], [122, 100], ["Combustion", "noise"], align="left")
        q.line([83, 47], [114, 79], line_color=INK, line_width=1.2)
    if i == 7:
        whitebox(q, -313, 33, 173, 199)
        txt(q, [-158], [186], ["Piston ring noise"])
        q.line([-316, -227, -29], [122, 168, 87], line_color=INK, line_width=1.2)
        whitebox(q, 80, 268, 84, 135)
        txt(q, [87, 87], [121.4, 95.5], ["Combustion", "noise"], align="left")
        q.line([117, 124], [159, 134], line_color=INK, line_width=1)
    rows.append(row(strip, p, q))

layout = column(*rows)
open("out.html", "w").write(file_html(layout, INLINE))
